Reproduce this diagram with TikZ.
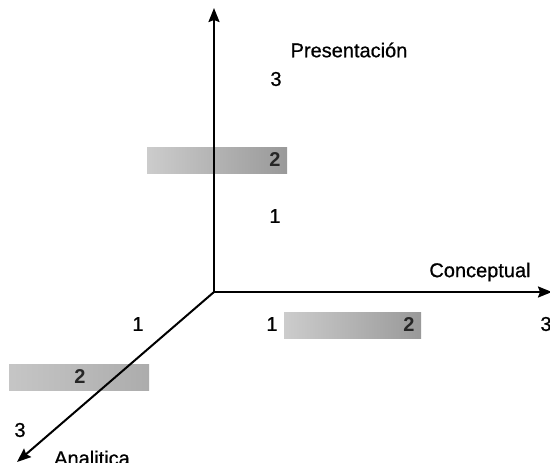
\documentclass[tikz,border=0pt]{standalone}
\usepackage{fontspec}
\setmainfont{Liberation Sans}
\newfontfamily\lblfont[FakeBold=0.7]{Liberation Sans}
\usetikzlibrary{arrows.meta}
\begin{document}
\begin{tikzpicture}[x=1pt,y=-1pt,
  axis/.style={line width=2pt,-{Stealth[length=14pt,width=11pt,inset=2pt]}},
  lbl/.style={font=\lblfont\fontsize{20}{22}\selectfont,inner sep=0pt},
  two/.style={font=\bfseries\fontsize{20}{22}\selectfont,inner sep=0pt,text=black!85},
  bar/.style={left color=gray!40,right color=gray!80,draw=none}]
\useasboundingbox (0,0) rectangle (550,463);
\fill[white] (0,0) rectangle (550,463);
% bars
\shade[bar] (147,147) rectangle (287,173);
\shade[bar] (284,312) rectangle (421,338);
\shade[left color=gray!45,right color=gray!65] (9,364) rectangle (149,390);
\node[two] (b1) at (275,160) {2};
\node[two] (b2) at (409,325) {2};
\node[two] (b3) at (80,377) {2};
% axes
\coordinate (O) at (214,292);
\coordinate (Y) at (214,8);
\coordinate (X) at (552,292);
\coordinate (Z) at (17,462);
\draw[axis] (O) -- (Y);
\draw[axis] (O) -- (X);
\draw[axis] (O) -- (Z);
% labels
\node[lbl] (pres) at (349,50) {Presentación};
\node[lbl] (y3) at (276,79) {3};
\node[lbl] (y1) at (275,216) {1};
\node[lbl] (conc) at (480,272) {Conceptual};
\node[lbl] (z1) at (138,324) {1};
\node[lbl] (x1) at (272,324) {1};
\node[lbl] (x3) at (546,324) {3};
\node[lbl] (z3) at (20,430) {3};
\node[lbl] (anal) at (92,458) {Analitica};
\end{tikzpicture}
\end{document}
